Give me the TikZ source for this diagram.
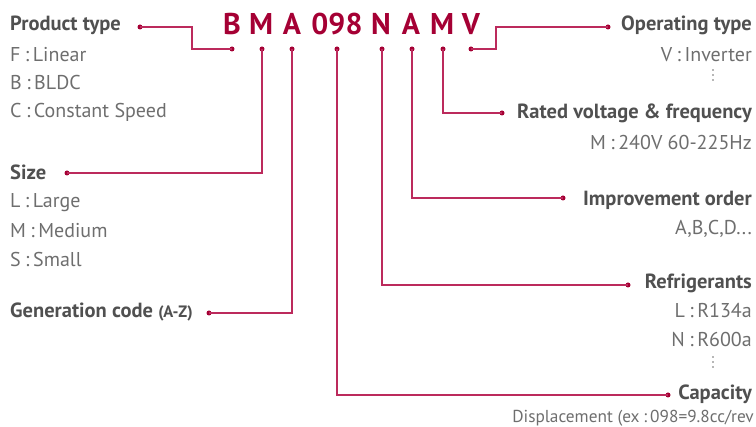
\documentclass[tikz,border=0pt]{standalone}
\usepackage{fontspec}
\setmainfont{PT Sans}
\definecolor{lgred}{HTML}{A50034}
\definecolor{lgline}{HTML}{BC2A5C}
\definecolor{headgray}{HTML}{505050}
\definecolor{subgray}{HTML}{6E6E6E}
\newcommand{\csep}{\hspace{0.22em}:\hspace{0.18em}}
\begin{document}
\begin{tikzpicture}[x=1pt,y=-1pt,
  code/.style={font=\fontsize{30}{30}\selectfont\bfseries, text=lgred, inner sep=0pt, anchor=base},
  head/.style={font=\fontsize{20.5}{20.5}\selectfont\bfseries, text=headgray, inner sep=0pt},
  sub/.style={font=\fontsize{20}{20}\selectfont, text=subgray, inner sep=0pt},
  small/.style={font=\fontsize{17.3}{17.3}\selectfont, text=subgray, inner sep=0pt},
  link/.style={draw=lgline, line width=1.3pt},
  pin/.style={circle, fill=lgred, inner sep=0pt, minimum size=5pt},
  vdot/.style={circle, fill=subgray, inner sep=0pt, minimum size=1.8pt}]
\useasboundingbox (0,0) rectangle (756,427);
% code letters
\node[code] (cB) at (232,35) {B};
\node[code] (cM) at (261,35) {M};
\node[code] (cA) at (292,35) {A};
\node[code] (cN0) at (337,35) {098};
\node[code] (cN) at (381,35) {N};
\node[code] (cA2) at (411,35) {A};
\node[code] (cM2) at (442,35) {M};
\node[code] (cV) at (471,35) {V};
% pins under letters
\node[pin] (pB) at (232,49) {};
\node[pin] (pM) at (262,49) {};
\node[pin] (pA) at (292,49) {};
\node[pin] (p0) at (337,49) {};
\node[pin] (pN) at (382,49) {};
\node[pin] (pA2) at (412,49) {};
\node[pin] (pM2) at (443,49) {};
\node[pin] (pV) at (471,49) {};
% left labels
\node[head, anchor=base west] (hProd) at (10,31) {Product type};
\node[sub, anchor=base west] (s1) at (10,62) {F\csep Linear};
\node[sub, anchor=base west] (s2) at (10,90) {B\csep BLDC};
\node[sub, anchor=base west] (s3) at (10,118) {C\csep Constant Speed};
\node[head, anchor=base west] (hSize) at (10,180) {Size};
\node[sub, anchor=base west] (s4) at (10,208) {L\csep Large};
\node[sub, anchor=base west] (s5) at (10,238) {M\csep Medium};
\node[sub, anchor=base west] (s6) at (10,267) {S\csep Small};
\node[head, anchor=base west] (hGen) at (10,318) {Generation code {\fontsize{16.5}{16.5}\selectfont(A-Z)}};
% right labels
\node[head, anchor=base east] (hOp) at (752,31) {Operating type};
\node[sub, anchor=base east] (r1) at (752,62) {V\csep Inverter};
\node[head, anchor=base east] (hRate) at (752,119) {Rated voltage \& frequency};
\node[sub, anchor=base east] (r2) at (752,150) {M\csep 240V 60-225Hz};
\node[head, anchor=base east] (hImp) at (752,206) {Improvement order};
\node[sub, anchor=base east] (r3) at (752,235) {A,B,C,D...};
\node[head, anchor=base east] (hRef) at (752,289) {Refrigerants};
\node[sub, anchor=base east] (r4) at (752,318) {L\csep R134a};
\node[sub, anchor=base east] (r5) at (752,347) {N\csep R600a};
\node[head, anchor=base east] (hCap) at (752,400) {Capacity};
\node[small, anchor=base east] (r6) at (754,423) {Displacement (ex\csep 098=9.8cc/rev};
% vertical ellipses
\foreach \yy in {70,75,80} \node[vdot] at (713,\yy) {};
\foreach \yy in {357,362,367} \node[vdot] at (713,\yy) {};
% label pins
\node[pin] (qProd) at (140,27) {};
\node[pin] (qSize) at (67,173) {};
\node[pin] (qGen) at (209,313) {};
\node[pin] (qOp) at (608,27) {};
\node[pin] (qRate) at (502,113) {};
\node[pin] (qImp) at (563,198) {};
\node[pin] (qRef) at (628,285) {};
\node[pin] (qCap) at (668,395) {};
% connectors
\draw[link] (qProd.center) -- (192,27) -- (192,49) -- (pB.center);
\draw[link] (qSize.center) -| (pM.center);
\draw[link] (qGen.center) -| (pA.center);
\draw[link] (pV.center) -- (496,49) -- (496,27) -- (qOp.center);
\draw[link] (pM2.center) |- (qRate.center);
\draw[link] (pA2.center) |- (qImp.center);
\draw[link] (pN.center) |- (qRef.center);
\draw[link] (p0.center) |- (qCap.center);
\end{tikzpicture}
\end{document}
